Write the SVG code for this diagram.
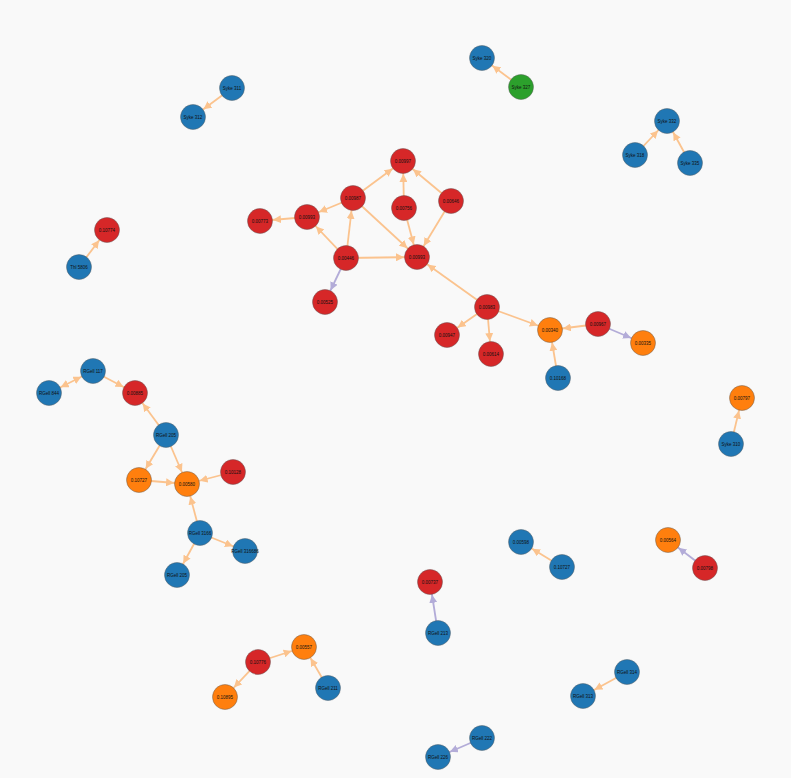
<svg xmlns="http://www.w3.org/2000/svg" width="791" height="778" viewBox="0 0 791 778">
<style>
.e{stroke:#fbc38e;stroke-width:1.8;fill:none;marker-end:url(#ao)}
.p{stroke:#b3acd8;stroke-width:1.8;fill:none;marker-end:url(#ap)}
circle{r:12.5;stroke:#555;stroke-opacity:.55;stroke-width:.8}
.b circle{fill:#2077b4}.r circle{fill:#d62728}.o circle{fill:#ff7f0e}.g circle{fill:#2ca02c}
text{font-family:"Liberation Sans",Arial,sans-serif;font-size:4.5px;fill:#111;text-anchor:middle;dominant-baseline:central}
</style>
<defs>
<marker id="ao" markerUnits="userSpaceOnUse" viewBox="0 0 8 8" markerWidth="8" markerHeight="8" refX="21" refY="4" orient="auto-start-reverse"><path d="M0,0L8,4L0,8z" fill="#fbc38e"/></marker>
<marker id="ap" markerUnits="userSpaceOnUse" viewBox="0 0 8 8" markerWidth="8" markerHeight="8" refX="21" refY="4" orient="auto"><path d="M0,0L8,4L0,8z" fill="#b3acd8"/></marker>
</defs>
<rect width="791" height="778" fill="#f9f9f9"/>
<g id="edges">
<line class="e" x1="232" y1="88" x2="193" y2="117"/>
<line class="e" x1="521" y1="87" x2="482" y2="58"/>
<line class="e" x1="635" y1="155" x2="667" y2="121"/>
<line class="e" x1="690" y1="163" x2="667" y2="121"/>
<line class="e" x1="353" y1="198" x2="403" y2="161"/>
<line class="e" x1="404" y1="208" x2="403" y2="161"/>
<line class="e" x1="451" y1="201" x2="403" y2="161"/>
<line class="e" x1="353" y1="198" x2="307" y2="217"/>
<line class="e" x1="307" y1="217" x2="260" y2="221"/>
<line class="e" x1="346" y1="258" x2="307" y2="217"/>
<line class="e" x1="346" y1="258" x2="353" y2="198"/>
<line class="e" x1="346" y1="258" x2="417" y2="257"/>
<line class="e" x1="353" y1="198" x2="417" y2="257"/>
<line class="e" x1="404" y1="208" x2="417" y2="257"/>
<line class="e" x1="451" y1="201" x2="417" y2="257"/>
<line class="p" x1="346" y1="258" x2="325" y2="302"/>
<line class="e" x1="487" y1="307" x2="417" y2="257"/>
<line class="e" x1="487" y1="307" x2="447" y2="335"/>
<line class="e" x1="487" y1="307" x2="491" y2="354"/>
<line class="e" x1="487" y1="307" x2="550" y2="330"/>
<line class="e" x1="598" y1="324" x2="550" y2="330"/>
<line class="p" x1="598" y1="324" x2="643" y2="343"/>
<line class="e" x1="558" y1="378" x2="550" y2="330"/>
<line class="e" x1="79" y1="267" x2="107" y2="230"/>
<line class="e" x1="93" y1="371" x2="49" y2="393" style="marker-start:url(#ao)"/>
<line class="e" x1="93" y1="371" x2="135" y2="393"/>
<line class="e" x1="166" y1="435" x2="135" y2="393"/>
<line class="e" x1="166" y1="435" x2="139" y2="480"/>
<line class="e" x1="166" y1="435" x2="187" y2="484"/>
<line class="e" x1="139" y1="480" x2="187" y2="484"/>
<line class="e" x1="233" y1="472" x2="187" y2="484"/>
<line class="e" x1="200" y1="533" x2="187" y2="484"/>
<line class="e" x1="200" y1="533" x2="245" y2="551"/>
<line class="e" x1="200" y1="533" x2="177" y2="575"/>
<line class="e" x1="731" y1="444" x2="742" y2="398"/>
<line class="e" x1="562" y1="567" x2="521" y2="542"/>
<line class="p" x1="705" y1="568" x2="668" y2="540"/>
<line class="p" x1="438" y1="633" x2="430" y2="582"/>
<line class="e" x1="258" y1="662" x2="304" y2="647"/>
<line class="e" x1="258" y1="662" x2="225" y2="697"/>
<line class="e" x1="328" y1="688" x2="304" y2="647"/>
<line class="e" x1="627" y1="672" x2="583" y2="696"/>
<line class="p" x1="482" y1="738" x2="438" y2="757"/>
</g>
<g id="n1" class="b"><circle cx="232" cy="88"/><text x="232" y="88">Syke 311</text></g>
<g id="n2" class="b"><circle cx="193" cy="117"/><text x="193" y="117">Syke 312</text></g>
<g id="n3" class="b"><circle cx="482" cy="58"/><text x="482" y="58">Syke 320</text></g>
<g id="n4" class="g"><circle cx="521" cy="87"/><text x="521" y="87">Syke 327</text></g>
<g id="n5" class="b"><circle cx="667" cy="121"/><text x="667" y="121">Syke 332</text></g>
<g id="n6" class="b"><circle cx="635" cy="155"/><text x="635" y="155">Syke 318</text></g>
<g id="n7" class="b"><circle cx="690" cy="163"/><text x="690" y="163">Syke 335</text></g>
<g id="n8" class="r"><circle cx="403" cy="161"/><text x="403" y="161">0.00997</text></g>
<g id="n9" class="r"><circle cx="353" cy="198"/><text x="353" y="198">0.00987</text></g>
<g id="n10" class="r"><circle cx="404" cy="208"/><text x="404" y="208">0.00756</text></g>
<g id="n11" class="r"><circle cx="451" cy="201"/><text x="451" y="201">0.00646</text></g>
<g id="n12" class="r"><circle cx="307" cy="217"/><text x="307" y="217">0.00993</text></g>
<g id="n13" class="r"><circle cx="260" cy="221"/><text x="260" y="221">0.00773</text></g>
<g id="n14" class="r"><circle cx="346" cy="258"/><text x="346" y="258">0.00446</text></g>
<g id="n15" class="r"><circle cx="417" cy="257"/><text x="417" y="257">0.00993</text></g>
<g id="n16" class="r"><circle cx="325" cy="302"/><text x="325" y="302">0.00525</text></g>
<g id="n17" class="r"><circle cx="487" cy="307"/><text x="487" y="307">0.00983</text></g>
<g id="n18" class="r"><circle cx="447" cy="335"/><text x="447" y="335">0.00947</text></g>
<g id="n19" class="r"><circle cx="491" cy="354"/><text x="491" y="354">0.00614</text></g>
<g id="n20" class="o"><circle cx="550" cy="330"/><text x="550" y="330">0.00340</text></g>
<g id="n21" class="r"><circle cx="598" cy="324"/><text x="598" y="324">0.00967</text></g>
<g id="n22" class="o"><circle cx="643" cy="343"/><text x="643" y="343">0.00335</text></g>
<g id="n23" class="b"><circle cx="558" cy="378"/><text x="558" y="378">0.10168</text></g>
<g id="n24" class="r"><circle cx="107" cy="230"/><text x="107" y="230">0.10774</text></g>
<g id="n25" class="b"><circle cx="79" cy="267"/><text x="79" y="267">Thl 5806</text></g>
<g id="n26" class="b"><circle cx="93" cy="371"/><text x="93" y="371">RGell 117</text></g>
<g id="n27" class="b"><circle cx="49" cy="393"/><text x="49" y="393">RGell 844</text></g>
<g id="n28" class="r"><circle cx="135" cy="393"/><text x="135" y="393">0.00885</text></g>
<g id="n29" class="b"><circle cx="166" cy="435"/><text x="166" y="435">RGell 205</text></g>
<g id="n30" class="o"><circle cx="139" cy="480"/><text x="139" y="480">0.10727</text></g>
<g id="n31" class="o"><circle cx="187" cy="484"/><text x="187" y="484">0.00580</text></g>
<g id="n32" class="r"><circle cx="233" cy="472"/><text x="233" y="472">0.10128</text></g>
<g id="n33" class="b"><circle cx="200" cy="533"/><text x="200" y="533">RGell 3166</text></g>
<g id="n34" class="b"><circle cx="245" cy="551"/><text x="245" y="551">RGell 316686</text></g>
<g id="n35" class="b"><circle cx="177" cy="575"/><text x="177" y="575">RGell 205</text></g>
<g id="n36" class="o"><circle cx="742" cy="398"/><text x="742" y="398">0.00797</text></g>
<g id="n37" class="b"><circle cx="731" cy="444"/><text x="731" y="444">Syke 310</text></g>
<g id="n38" class="b"><circle cx="521" cy="542"/><text x="521" y="542">0.00598</text></g>
<g id="n39" class="b"><circle cx="562" cy="567"/><text x="562" y="567">0.10727</text></g>
<g id="n40" class="o"><circle cx="668" cy="540"/><text x="668" y="540">0.00564</text></g>
<g id="n41" class="r"><circle cx="705" cy="568"/><text x="705" y="568">0.00798</text></g>
<g id="n42" class="r"><circle cx="430" cy="582"/><text x="430" y="582">0.00737</text></g>
<g id="n43" class="b"><circle cx="438" cy="633"/><text x="438" y="633">RGell 213</text></g>
<g id="n44" class="o"><circle cx="304" cy="647"/><text x="304" y="647">0.00557</text></g>
<g id="n45" class="r"><circle cx="258" cy="662"/><text x="258" y="662">0.10776</text></g>
<g id="n46" class="o"><circle cx="225" cy="697"/><text x="225" y="697">0.10895</text></g>
<g id="n47" class="b"><circle cx="328" cy="688"/><text x="328" y="688">RGell 211</text></g>
<g id="n48" class="b"><circle cx="627" cy="672"/><text x="627" y="672">RGell 314</text></g>
<g id="n49" class="b"><circle cx="583" cy="696"/><text x="583" y="696">RGell 313</text></g>
<g id="n50" class="b"><circle cx="482" cy="738"/><text x="482" y="738">RGell 222</text></g>
<g id="n51" class="b"><circle cx="438" cy="757"/><text x="438" y="757">RGell 226</text></g>
</svg>
